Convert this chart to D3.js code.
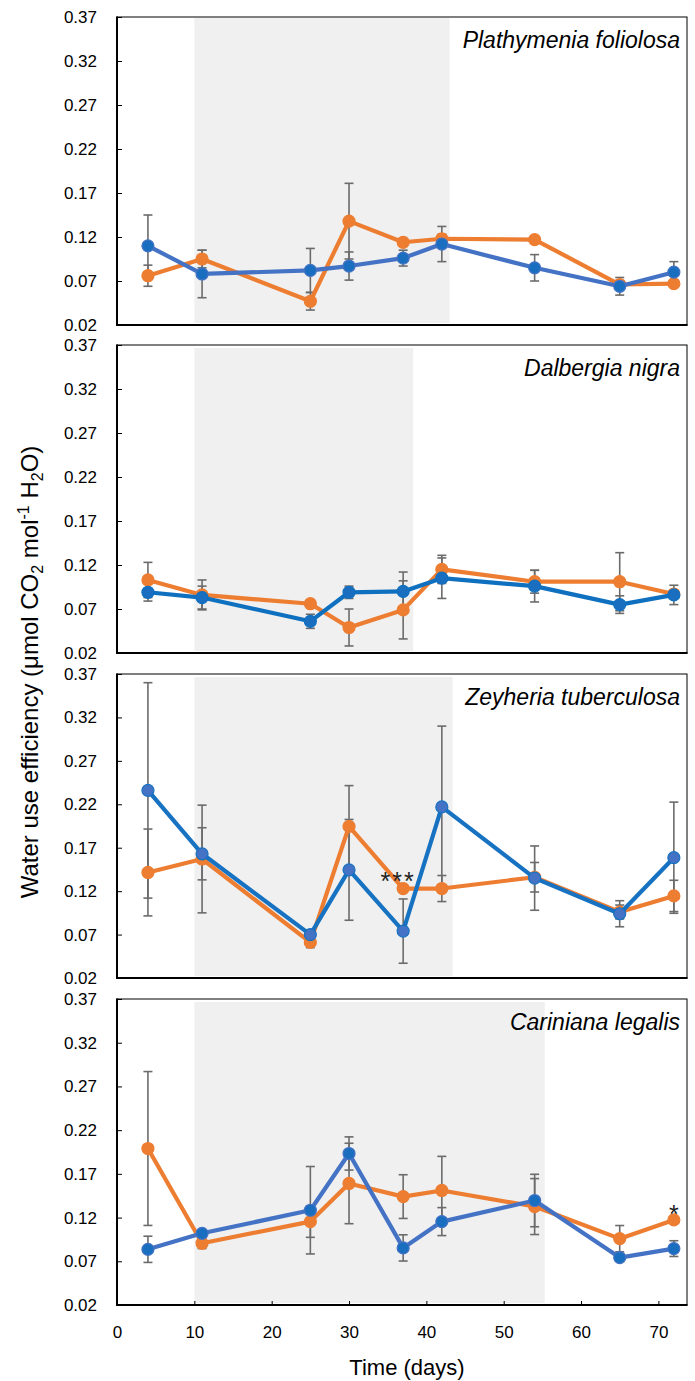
<!DOCTYPE html>
<html>
<head>
<meta charset="utf-8">
<script src="https://cdn.jsdelivr.net/npm/d3@7"></script>
<style>
  html, body { margin: 0; padding: 0; background: #fff; }
  svg { display: block; font-family: "Liberation Sans", Arial, sans-serif; }
</style>
</head>
<body>
<svg id="chart" width="695" height="1381"></svg>
<script>
// ---------------- DATA ----------------
const days = [4, 11, 25, 30, 37, 42, 54, 65, 72];
const species = ["Plathymenia foliolosa", "Dalbergia nigra", "Zeyheria tuberculosa", "Cariniana legalis"];
const yTicks = [0.02, 0.07, 0.12, 0.17, 0.22, 0.27, 0.32, 0.37];
const xTicks = [0, 10, 20, 30, 40, 50, 60, 70];

// shaded (stress) period per species, in days
const shadeStart = [10, 10, 10, 10];
const shadeEnd = [43, 38.3, 43.4, 55.3];

// Plathymenia foliolosa
const plathOrange    = [0.076, 0.095, 0.047, 0.138, 0.114, 0.118, 0.117, 0.066, 0.067];
const plathOrangeErr = [0.012, 0.010, 0.010, 0.043, 0.003, 0.005, 0.003, 0.004, 0.003];
const plathBlue      = [0.110, 0.078, 0.082, 0.087, 0.096, 0.112, 0.085, 0.064, 0.080];
const plathBlueErr   = [0.035, 0.027, 0.025, 0.016, 0.009, 0.020, 0.015, 0.010, 0.012];

// Dalbergia nigra
const dalbOrange    = [0.103, 0.086, 0.076, 0.049, 0.069, 0.115, 0.101, 0.101, 0.087];
const dalbOrangeErr = [0.020, 0.017, 0.003, 0.021, 0.033, 0.016, 0.013, 0.033, 0.004];
const dalbBlue      = [0.089, 0.083, 0.056, 0.089, 0.090, 0.105, 0.096, 0.075, 0.086];
const dalbBlueErr   = [0.010, 0.013, 0.008, 0.007, 0.022, 0.023, 0.018, 0.010, 0.011];

// Zeyheria tuberculosa
const zeyOrange    = [0.1415, 0.157, 0.061, 0.1945, 0.123, 0.123, 0.136, 0.096, 0.1145];
const zeyOrangeErr = [0.050, 0.062, 0.006, 0.047, 0.003, 0.015, 0.017, 0.008, 0.018];
const zeyBlue      = [0.236, 0.163, 0.070, 0.1445, 0.074, 0.217, 0.135, 0.094, 0.1585];
const zeyBlueErr   = [0.124, 0.030, 0.005, 0.058, 0.037, 0.093, 0.037, 0.015, 0.064];

// Cariniana legalis
const cariOrange    = [0.199, 0.0906, 0.1154, 0.159, 0.144, 0.151, 0.1326, 0.0959, 0.1173];
const cariOrangeErr = [0.088, 0.006, 0.018, 0.046, 0.025, 0.039, 0.032, 0.015, 0.003];
const cariBlue      = [0.0837, 0.102, 0.1284, 0.1933, 0.0853, 0.1154, 0.1395, 0.0742, 0.0845];
const cariBlueErr   = [0.015, 0.003, 0.050, 0.019, 0.015, 0.016, 0.030, 0.004, 0.009];

// significance marks: panel index, day, label (placed above the orange point)
const sigPanel = [2, 3];
const sigDay = [37, 72];
const sigText = ["***", "*"];

const orangeSeries = [plathOrange, dalbOrange, zeyOrange, cariOrange];
const orangeErrors = [plathOrangeErr, dalbOrangeErr, zeyOrangeErr, cariOrangeErr];
const blueSeries = [plathBlue, dalbBlue, zeyBlue, cariBlue];
const blueErrors = [plathBlueErr, dalbBlueErr, zeyBlueErr, cariBlueErr];

// ---------------- LAYOUT / STYLE ----------------
const svg = d3.select("#chart");
const left = 117, right = 687;
const tops = [17, 345, 674, 999];
const heights = [308, 308, 304, 306];
const orange = "#ED7D31";
const blueLine = ["#4472C4", "#0F70C0", "#1772C2", "#4472C4"];
const blueMarker = ["#1A6EC0", "#1A6EC0", "#4472C4", "#1A6EC0"];
const errColor = "#6b6b6b";

const x = d3.scaleLinear().domain([0, 73.7]).range([left, right]);

species.forEach((name, i) => {
  const top = tops[i], bottom = tops[i] + heights[i];
  const y = d3.scaleLinear().domain([0.02, 0.37]).range([bottom, top]);
  const g = svg.append("g");

  // shaded period
  g.append("rect")
    .attr("x", x(shadeStart[i]))
    .attr("y", top + (i === 0 ? 1 : 3))
    .attr("width", x(shadeEnd[i]) - x(shadeStart[i]))
    .attr("height", heights[i] - (i === 0 ? 3 : 5))
    .attr("fill", "#f0f0f0");

  // frame (thin top/right)
  g.append("rect")
    .attr("x", left).attr("y", top)
    .attr("width", right - left).attr("height", heights[i])
    .attr("fill", "none").attr("stroke", "#000").attr("stroke-width", 1);

  // y axis
  const ya = g.append("g").attr("transform", `translate(${left},0)`)
    .call(d3.axisLeft(y).tickValues(yTicks).tickSize(-5).tickPadding(20).tickFormat(d3.format(".2f")));
  ya.select(".domain").remove();
  ya.selectAll("line").attr("stroke", "#000").attr("stroke-width", 1);
  ya.selectAll("text").attr("font-size", 17).attr("fill", "#000")
    .attr("font-family", "'Liberation Sans', Arial, sans-serif");

  // x axis (only bottom panel has ticks/labels)
  if (i === species.length - 1) {
    const xa = g.append("g").attr("transform", `translate(0,${bottom})`)
      .call(d3.axisBottom(x).tickValues(xTicks).tickSize(-4).tickPadding(21).tickFormat(d3.format("d")));
    xa.select(".domain").remove();
    xa.selectAll("line").attr("stroke", "#000").attr("stroke-width", 1);
    xa.selectAll("text").attr("font-size", 17).attr("fill", "#000")
      .attr("font-family", "'Liberation Sans', Arial, sans-serif");
  }

  // thick left and bottom axis lines
  g.append("line").attr("x1", left).attr("x2", left).attr("y1", top - 0.5).attr("y2", bottom + 1)
    .attr("stroke", "#000").attr("stroke-width", 2);
  g.append("line").attr("x1", left - 1).attr("x2", right + 0.5).attr("y1", bottom).attr("y2", bottom)
    .attr("stroke", "#000").attr("stroke-width", 2);

  // species label
  g.append("text").attr("x", 680).attr("y", top + 31)
    .attr("text-anchor", "end").attr("font-size", 23).attr("font-style", "italic")
    .attr("fill", "#000").text(name);

  const series = [
    { vals: orangeSeries[i], errs: orangeErrors[i], line: orange, marker: orange },
    { vals: blueSeries[i], errs: blueErrors[i], line: blueLine[i], marker: blueMarker[i] }
  ];

  // error bars
  series.forEach(s => {
    const eb = g.append("g").attr("stroke", errColor).attr("stroke-width", 1.6);
    days.forEach((d, k) => {
      const cx = x(d), hi = y(s.vals[k] + s.errs[k]), lo = y(s.vals[k] - s.errs[k]);
      eb.append("line").attr("x1", cx).attr("x2", cx).attr("y1", hi).attr("y2", lo);
      eb.append("line").attr("x1", cx - 4.5).attr("x2", cx + 4.5).attr("y1", hi).attr("y2", hi);
      eb.append("line").attr("x1", cx - 4.5).attr("x2", cx + 4.5).attr("y1", lo).attr("y2", lo);
    });
  });

  // lines and markers
  series.forEach(s => {
    const line = d3.line().x((d, k) => x(days[k])).y(d => y(d));
    g.append("path").datum(s.vals).attr("d", line)
      .attr("fill", "none").attr("stroke", s.line).attr("stroke-width", 4.2)
      .attr("stroke-linejoin", "round");
    g.selectAll(null).data(s.vals).enter().append("circle")
      .attr("cx", (d, k) => x(days[k])).attr("cy", d => y(d)).attr("r", 6)
      .attr("fill", s.marker).attr("stroke", s.line).attr("stroke-width", 1.2);
  });

  // significance marks
  sigPanel.forEach((p, j) => {
    if (p !== i) return;
    const k = days.indexOf(sigDay[j]);
    g.append("text")
      .attr("x", x(sigDay[j]) - (sigText[j].length > 1 ? 5 : 0))
      .attr("y", y(orangeSeries[i][k]) + (sigText[j].length > 1 ? 1 : 3))
      .attr("text-anchor", "middle").attr("font-size", 25).attr("letter-spacing", sigText[j].length > 1 ? 2 : 0)
      .attr("fill", "#222").text(sigText[j]);
  });
});

// axis titles
svg.append("text").attr("x", 407).attr("y", 1375).attr("text-anchor", "middle")
  .attr("font-size", 22).attr("fill", "#000").text("Time (days)");

const yt = svg.append("text").attr("transform", "translate(38,672) rotate(-90)")
  .attr("text-anchor", "middle").attr("font-size", 24).attr("fill", "#000");
yt.append("tspan").text("Water use efficiency (μmol CO");
yt.append("tspan").attr("font-size", 16).attr("dy", 5).text("2");
yt.append("tspan").attr("dy", -5).text("  mol");
yt.append("tspan").attr("font-size", 16).attr("dy", -9).text("-1");
yt.append("tspan").attr("dy", 9).text(" H");
yt.append("tspan").attr("font-size", 16).attr("dy", 5).text("2");
yt.append("tspan").attr("dy", -5).text("O)");
</script>
</body>
</html>
